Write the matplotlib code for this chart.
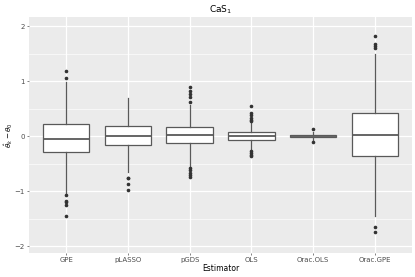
import matplotlib
matplotlib.use("Agg")
import matplotlib.pyplot as plt
import numpy as np

categories = ["GPE", "pLASSO", "pGDS", "OLS", "Orac.OLS", "Orac.GPE"]
q1 = [-0.29, -0.15, -0.12, -0.07, -0.02, -0.35]
med = [-0.05, 0.00, 0.02, 0.00, 0.00, 0.02]
q3 = [0.22, 0.19, 0.17, 0.085, 0.02, 0.43]
whislo = [-1.05, -0.65, -0.55, -0.25, -0.08, -1.45]
whishi = [0.98, 0.70, 0.57, 0.27, 0.08, 1.50]
fliers = [
    [1.18, 1.07, -1.07, -1.17, -1.20, -1.24, -1.44],
    [-0.75, -0.76, -0.87, -0.97],
    [0.89, 0.82, 0.77, 0.71, 0.63, -0.58, -0.62, -0.66, -0.70, -0.74],
    [0.55, 0.42, 0.38, 0.34, 0.30, 0.28, -0.27, -0.30, -0.33, -0.35],
    [0.13, -0.11],
    [1.82, 1.68, 1.65, 1.60, -1.65, -1.74],
]

stats = []
for i, c in enumerate(categories):
    stats.append(dict(label=c, q1=q1[i], med=med[i], q3=q3[i],
                      whislo=whislo[i], whishi=whishi[i], fliers=fliers[i]))

fig = plt.figure(figsize=(4.15, 2.77), dpi=100)
ax = fig.add_axes([29/415, 1-253/277, 383/415, 236/277])
ax.set_facecolor("#EBEBEB")
for s in ax.spines.values():
    s.set_visible(False)

pos = np.arange(1, len(categories) + 1)
ax.bxp(stats, positions=pos, widths=0.75, patch_artist=True, showcaps=False,
       boxprops=dict(facecolor="white", edgecolor="#595959", linewidth=0.9),
       medianprops=dict(color="#595959", linewidth=1.3),
       whiskerprops=dict(color="#595959", linewidth=0.9),
       flierprops=dict(marker="o", markersize=1.6, markerfacecolor="#333333",
                       markeredgecolor="#333333", linestyle="none"),
       zorder=3)

ax.set_xlim(0.4, len(categories) + 0.6)
ax.set_ylim(-2.12, 2.17)
ax.set_yticks([-2, -1, 0, 1, 2])
ax.set_yticks([-1.5, -0.5, 0.5, 1.5], minor=True)
ax.set_xticks(pos)
ax.set_xticklabels(categories)
ax.grid(True, which="major", color="white", linewidth=0.9, zorder=0)
ax.grid(True, which="minor", axis="y", color="white", linewidth=0.45, zorder=0)
ax.set_axisbelow(True)
ax.tick_params(axis="both", which="major", labelsize=5, colors="#4D4D4D",
               length=1.5, width=0.5, pad=1.5)
ax.tick_params(axis="both", which="minor", length=0)
for lbl in ax.get_xticklabels() + ax.get_yticklabels():
    lbl.set_color("#4D4D4D")

ax.set_xlabel("Estimator", fontsize=5.5, labelpad=0.5)
ax.set_ylabel(r"$\hat{\theta}_k-\theta_0$", fontsize=5.2)
ax.yaxis.set_label_coords(-0.036, 0.5)
ax.set_title(r"CaS$_1$", fontsize=6.5, pad=3)

fig.savefig("out.png", dpi=100)
